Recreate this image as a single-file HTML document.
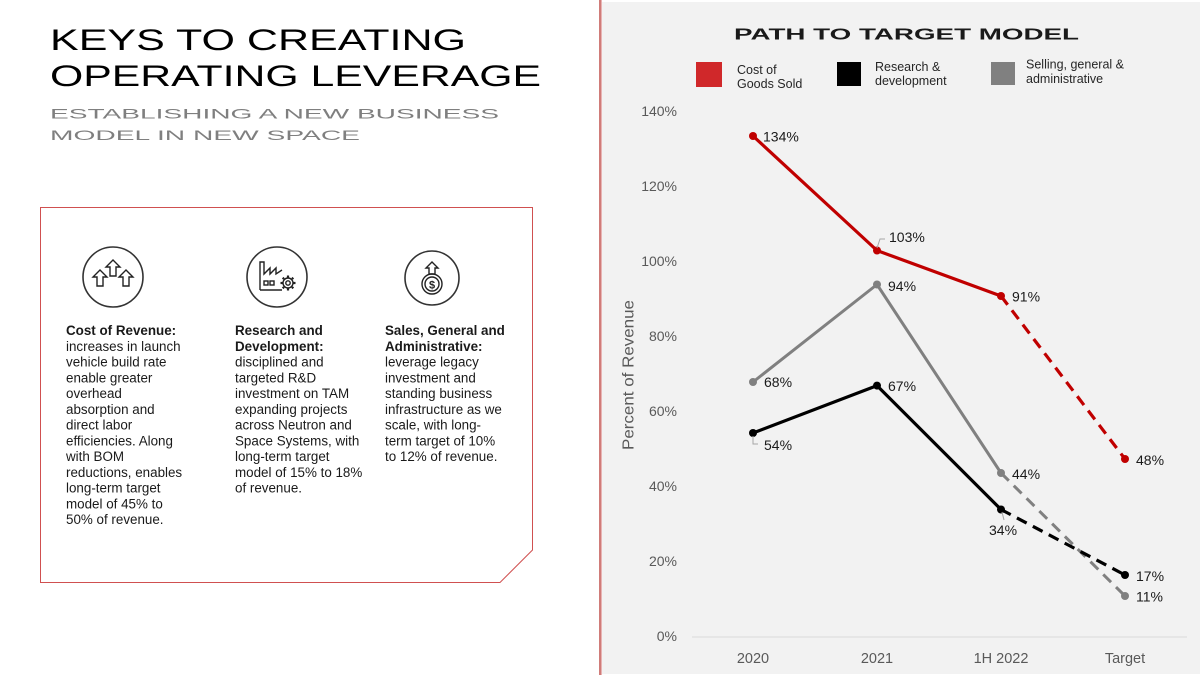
<!DOCTYPE html>
<html><head><meta charset="utf-8"><style>
html,body{margin:0;padding:0;background:#fff;}
svg{display:block;}
text{font-family:"Liberation Sans",sans-serif;}
</style></head><body>
<svg width="1200" height="675" viewBox="0 0 1200 675" xmlns="http://www.w3.org/2000/svg">
<rect x="0" y="0" width="1200" height="675" fill="#fff"/>
<!-- right panel -->
<rect x="601" y="2" width="599" height="672" fill="#f2f2f2"/>
<line x1="600" y1="0" x2="600" y2="675" stroke="#c0504d" stroke-width="1.5"/>
<line x1="601.5" y1="0" x2="601.5" y2="675" stroke="#e8b4b4" stroke-width="1"/>

<!-- Left titles -->
<text x="50" y="50" font-size="30" fill="#000" textLength="416" lengthAdjust="spacingAndGlyphs">KEYS TO CREATING</text>
<text x="50" y="86" font-size="30" fill="#000" textLength="491" lengthAdjust="spacingAndGlyphs">OPERATING LEVERAGE</text>
<text x="50" y="118.5" font-size="14" fill="#7f7f7f" textLength="449" lengthAdjust="spacingAndGlyphs">ESTABLISHING A NEW BUSINESS</text>
<text x="50" y="140" font-size="14" fill="#7f7f7f" textLength="310" lengthAdjust="spacingAndGlyphs">MODEL IN NEW SPACE</text>

<!-- box -->
<path d="M40.5 207.5 L532.5 207.5 L532.5 550 L500 582.5 L40.5 582.5 Z" fill="none" stroke="#d05050" stroke-width="1"/>

<!-- icon 1 -->
<circle cx="113" cy="277" r="30" fill="none" stroke="#333" stroke-width="1.6"/>
<g fill="none" stroke="#222" stroke-width="1.4" stroke-linejoin="miter">
<path d="M113 260 L120 267 L116 267 L116 276 L110 276 L110 267 L106 267 Z"/>
<path d="M100 270 L107 277 L103 277 L103 286 L97 286 L97 277 L93 277 Z"/>
<path d="M126 270 L133 277 L129 277 L129 286 L123 286 L123 277 L119 277 Z"/>
</g>
<!-- icon 2 -->
<circle cx="277" cy="277" r="30" fill="none" stroke="#333" stroke-width="1.6"/>
<g fill="none" stroke="#222" stroke-width="1.4">
<path d="M260 290 L260 262 L264 262 L264 274 L270 268 L270 274 L276 268 L276 274 L282 270"/>
<path d="M260 290 L282 290"/>
<rect x="264" y="281" width="4" height="4"/>
<rect x="270" y="281" width="4" height="4"/>
<circle cx="288" cy="283" r="5"/>
<circle cx="288" cy="283" r="2.2"/>
</g>
<g stroke="#222" stroke-width="2.2">
<line x1="288" y1="275.5" x2="288" y2="277.5"/><line x1="288" y1="288.5" x2="288" y2="290.5"/>
<line x1="280.5" y1="283" x2="282.5" y2="283"/><line x1="293.5" y1="283" x2="295.5" y2="283"/>
<line x1="282.7" y1="277.7" x2="284" y2="279"/><line x1="292" y1="287" x2="293.3" y2="288.3"/>
<line x1="282.7" y1="288.3" x2="284" y2="287"/><line x1="292" y1="279" x2="293.3" y2="277.7"/>
</g>
<!-- icon 3 -->
<circle cx="432" cy="278" r="27" fill="none" stroke="#333" stroke-width="1.6"/>
<g fill="none" stroke="#222" stroke-width="1.4">
<path d="M432 262 L438 268 L435 268 L435 274 L429 274 L429 268 L426 268 Z"/>
<circle cx="432" cy="284" r="10"/>
<circle cx="432" cy="284" r="7"/>
</g>
<text x="432" y="288.5" font-size="11" font-weight="bold" fill="#222" text-anchor="middle">$</text>

<!-- column texts -->
<g font-size="13.4" fill="#1a1a1a">
<text x="66" y="335" font-weight="bold">Cost of Revenue:</text>
<text x="66" y="350.75">increases in launch</text>
<text x="66" y="366.5">vehicle build rate</text>
<text x="66" y="382.25">enable greater</text>
<text x="66" y="398">overhead</text>
<text x="66" y="413.75">absorption and</text>
<text x="66" y="429.5">direct labor</text>
<text x="66" y="445.25">efficiencies. Along</text>
<text x="66" y="461">with BOM</text>
<text x="66" y="476.75">reductions, enables</text>
<text x="66" y="492.5">long-term target</text>
<text x="66" y="508.25">model of 45% to</text>
<text x="66" y="524">50% of revenue.</text>

<text x="235" y="335" font-weight="bold">Research and</text>
<text x="235" y="350.75" font-weight="bold">Development:</text>
<text x="235" y="366.5">disciplined and</text>
<text x="235" y="382.25">targeted R&amp;D</text>
<text x="235" y="398">investment on TAM</text>
<text x="235" y="413.75">expanding projects</text>
<text x="235" y="429.5">across Neutron and</text>
<text x="235" y="445.25">Space Systems, with</text>
<text x="235" y="461">long-term target</text>
<text x="235" y="476.75">model of 15% to 18%</text>
<text x="235" y="492.5">of revenue.</text>

<text x="385" y="335" font-weight="bold">Sales, General and</text>
<text x="385" y="350.75" font-weight="bold">Administrative:</text>
<text x="385" y="366.5">leverage legacy</text>
<text x="385" y="382.25">investment and</text>
<text x="385" y="398">standing business</text>
<text x="385" y="413.75">infrastructure as we</text>
<text x="385" y="429.5">scale, with long-</text>
<text x="385" y="445.25">term target of 10%</text>
<text x="385" y="461">to 12% of revenue.</text>
</g>

<!-- chart title -->
<text x="734" y="39.5" font-size="15.5" font-weight="bold" fill="#1a1a1a" textLength="345" lengthAdjust="spacingAndGlyphs">PATH TO TARGET MODEL</text>

<!-- legend -->
<rect x="696" y="62" width="26" height="25" fill="#d0282a"/>
<rect x="837" y="62" width="24" height="24" fill="#000"/>
<rect x="991" y="62" width="24" height="23" fill="#808080"/>
<g font-size="12.5" fill="#262626">
<text x="737" y="74">Cost of</text>
<text x="737" y="88">Goods Sold</text>
<text x="875" y="71">Research &amp;</text>
<text x="875" y="85">development</text>
<text x="1026" y="68.5">Selling, general &amp;</text>
<text x="1026" y="83">administrative</text>
</g>

<!-- y ticks -->
<g font-size="14" fill="#595959" text-anchor="end">
<text x="677" y="116">140%</text>
<text x="677" y="191">120%</text>
<text x="677" y="266">100%</text>
<text x="677" y="341">80%</text>
<text x="677" y="416">60%</text>
<text x="677" y="491">40%</text>
<text x="677" y="566">20%</text>
<text x="677" y="641">0%</text>
</g>
<line x1="692" y1="637" x2="1187" y2="637" stroke="#d9d9d9" stroke-width="1"/>
<g font-size="14.5" fill="#595959" text-anchor="middle">
<text x="753" y="663">2020</text>
<text x="877" y="663">2021</text>
<text x="1001" y="663">1H 2022</text>
<text x="1125" y="663">Target</text>
</g>
<text transform="translate(633.5,375) rotate(-90)" font-size="16" fill="#595959" text-anchor="middle" textLength="150" lengthAdjust="spacingAndGlyphs">Percent of Revenue</text>

<!-- series -->
<g fill="none" stroke-linecap="butt" stroke-linejoin="round">
<polyline points="753,136 877,250.5 1001,296" stroke="#c00000" stroke-width="3.2"/>
<line x1="1001" y1="296" x2="1125" y2="459" stroke="#c00000" stroke-width="3.2" stroke-dasharray="11 7"/>
<polyline points="753,382 877,284.5 1001,473" stroke="#808080" stroke-width="3"/>
<line x1="1001" y1="473" x2="1125" y2="596" stroke="#808080" stroke-width="3" stroke-dasharray="11 7"/>
<polyline points="753,433 877,385.6 1001,509.5" stroke="#000" stroke-width="3.2"/>
<line x1="1001" y1="509.5" x2="1125" y2="575" stroke="#000" stroke-width="3.2" stroke-dasharray="11 7"/>
</g>
<g>
<circle cx="753" cy="136" r="4" fill="#c00000"/>
<circle cx="877" cy="250.5" r="4" fill="#c00000"/>
<circle cx="1001" cy="296" r="4" fill="#c00000"/>
<circle cx="1125" cy="459" r="4" fill="#c00000"/>
<circle cx="753" cy="382" r="4" fill="#808080"/>
<circle cx="877" cy="284.5" r="4" fill="#808080"/>
<circle cx="1001" cy="473" r="4" fill="#808080"/>
<circle cx="1125" cy="596" r="4" fill="#808080"/>
<circle cx="753" cy="433" r="4" fill="#000"/>
<circle cx="877" cy="385.6" r="4" fill="#000"/>
<circle cx="1001" cy="509.5" r="4" fill="#000"/>
<circle cx="1125" cy="575" r="4" fill="#000"/>
</g>
<!-- leader lines -->
<g fill="none" stroke="#a6a6a6" stroke-width="1">
<polyline points="877,248 880,239 885,239"/>
<polyline points="753,436 753,444 758,444"/>
<line x1="1002" y1="512" x2="1004" y2="520"/>
</g>
<!-- data labels -->
<g font-size="14" fill="#1a1a1a">
<text x="763" y="141.5">134%</text>
<text x="889" y="242">103%</text>
<text x="888" y="291">94%</text>
<text x="764" y="387">68%</text>
<text x="888" y="391">67%</text>
<text x="1012" y="301.5">91%</text>
<text x="1136" y="465">48%</text>
<text x="1012" y="479">44%</text>
<text x="764" y="450">54%</text>
<text x="989" y="535">34%</text>
<text x="1136" y="581">17%</text>
<text x="1136" y="601.5">11%</text>
</g>
</svg>
</body></html>
